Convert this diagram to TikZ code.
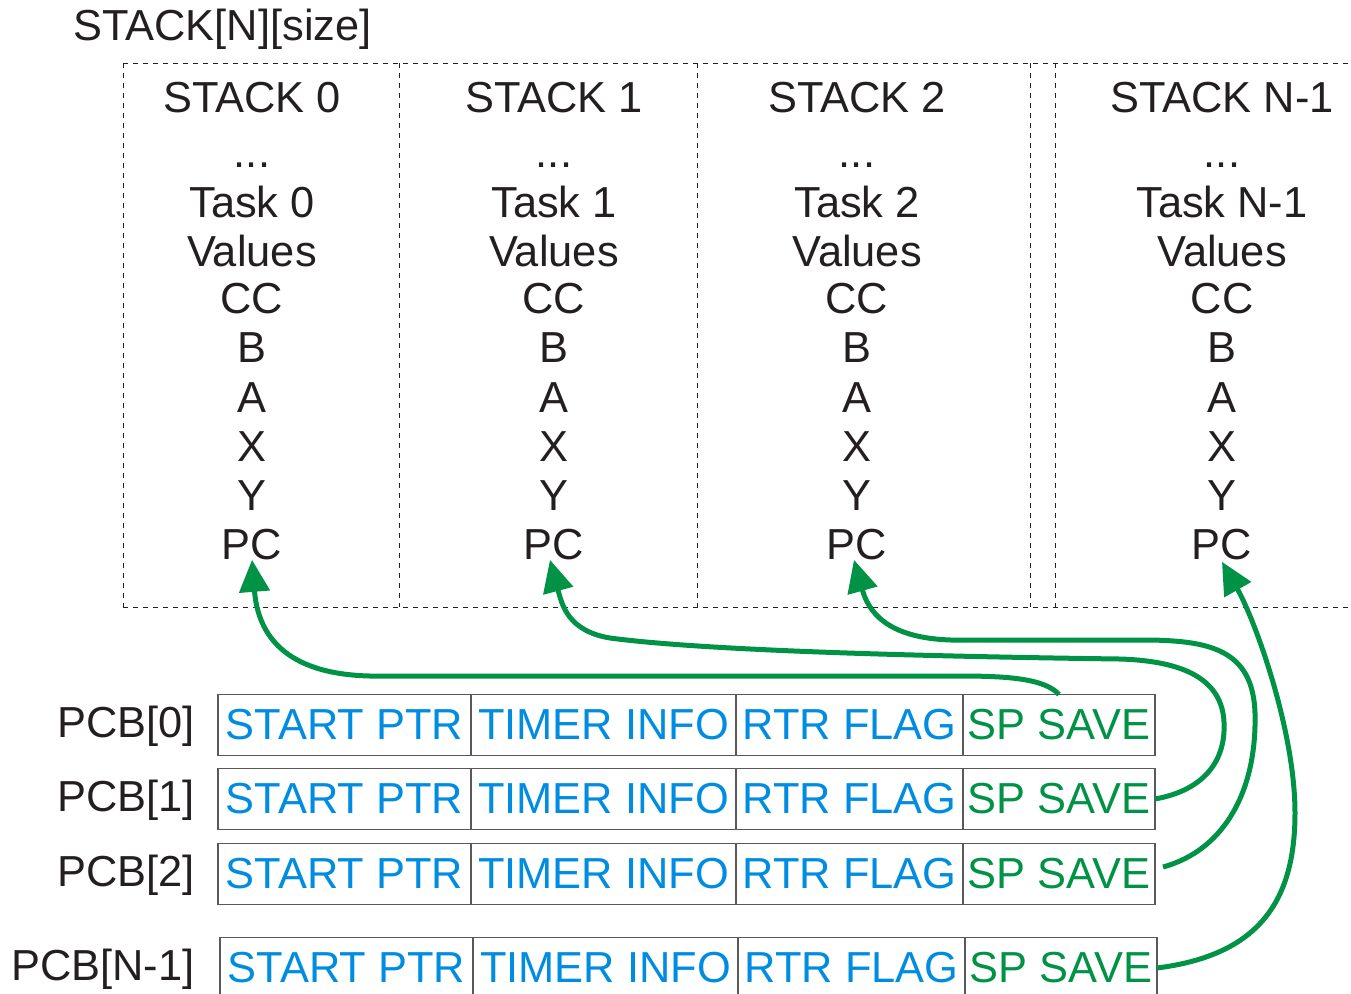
\documentclass[tikz,border=0pt]{standalone}
\usepackage{fontspec}
\setmainfont{Liberation Sans}
\usepackage{tikz}
\usetikzlibrary{arrows.meta,positioning}
\definecolor{ink}{RGB}{35,31,32}
\definecolor{ptrblue}{RGB}{0,140,225}
\definecolor{ptrgreen}{RGB}{0,146,69}
\newcommand\BigFont{\fontsize{21.7}{26}\selectfont}
\tikzset{
  stacktxt/.style={
    anchor = base,
    inner sep = 0pt,
    text = ink,
    font = \BigFont
  },
  pcbtxt/.style={
    anchor = base east,
    inner sep = 0pt,
    text = ink,
    font = \BigFont
  },
  cell/.style={
    anchor = west,
    shape = rectangle,
    draw = black!65,
    line width = 0.6pt,
    inner sep = 0pt,
    outer sep = 0pt,
    minimum height = 30.5pt,
    text = ptrblue,
    font = \BigFont
  },
  frame/.style={
    draw = ink,
    line width = 0.5pt,
    dash pattern = on 2.5pt off 2.5pt
  },
  ptr/.style={
    draw = ptrgreen,
    line width = 2.5pt,
    line join = round,
    -{Triangle[length=16pt,width=15pt]}
  }
}

\begin{document}
\begin{tikzpicture}[x=0.5pt,y=-0.5pt]
\clip (0,0) rectangle (1351,993);

       \node[stacktxt, anchor=base west] (title) at (73,40) {STACK[N][size]};

       % stack frames
       \draw[frame] (123,63) -- (1351,63) (123,607) -- (1351,607);
       \foreach \x in {123,399,697,1030,1055}
         \draw[frame] (\x,63) -- (\x,607);

       \foreach \c/\x/\n in {0/252/0, 1/554/1, 2/857/2, 3/1222/N-1} {
         \node[stacktxt] (head\c) at (\x,112) {STACK \n};
         \node[stacktxt] (dots\c) at (\x,167) {...};
         \node[stacktxt] (task\c) at (\x,217) {Task \n};
         \node[stacktxt] (val\c) at (\x,266) {Values};
         \node[stacktxt] (cc\c) at (\x,313) {CC};
         \node[stacktxt] (b\c) at (\x,362) {B};
         \node[stacktxt] (a\c) at (\x,412) {A};
         \node[stacktxt] (x\c) at (\x,461) {X};
         \node[stacktxt] (y\c) at (\x,510) {Y};
         \node[stacktxt] (pc\c) at (\x,559) {PC};
       }

       % process control blocks
       \foreach \r/\n/\y/\d in {0/0/725/0, 1/1/799/0, 2/2/874/0, 3/N-1/968/2} {
         \node[pcbtxt] (pcb\r) at (195,\y+12) {PCB[\n]};
         \node[cell, minimum width=126.5pt] (st\r) at (218+\d,\y) {START PTR};
         \node[cell, minimum width=132.5pt] (ti\r) at (st\r.east) {TIMER INFO};
         \node[cell, minimum width=113.5pt] (rf\r) at (ti\r.east) {RTR FLAG};
         \node[cell, minimum width=96pt, text=ptrgreen] (sp\r) at (rf\r.east) {SP SAVE};
       }

       % saved stack pointers
       \draw[ptr] (sp0.north) .. controls (1045,679) and (1010,676) .. (960,676)
                -- (370,676) .. controls (285,674) and (258,635) .. (pc0.south);
       \draw[ptr] (sp1.east) .. controls (1205,790) and (1226,760) .. (1224,722)
                .. controls (1222,680) and (1185,661) .. (1120,659)
                .. controls (900,656) and (700,650) .. (610,638)
                .. controls (568,631) and (562,605) .. ([xshift=-2pt]pc1.south);
       \draw[ptr] ([shift={(8,-7)}]sp2.east) .. controls (1225,850) and (1257,790) .. (1255,713)
                .. controls (1253,650) and (1210,641) .. (1150,640)
                -- (951,640) .. controls (885,638) and (868,610) .. ([xshift=-1.5pt]pc2.south);
       \draw[ptr] (sp3.east) .. controls (1260,955) and (1295,900) .. (1295,813)
                .. controls (1295,730) and (1255,620) .. ([yshift=-1pt]pc3.south);
\end{tikzpicture}
\end{document}
